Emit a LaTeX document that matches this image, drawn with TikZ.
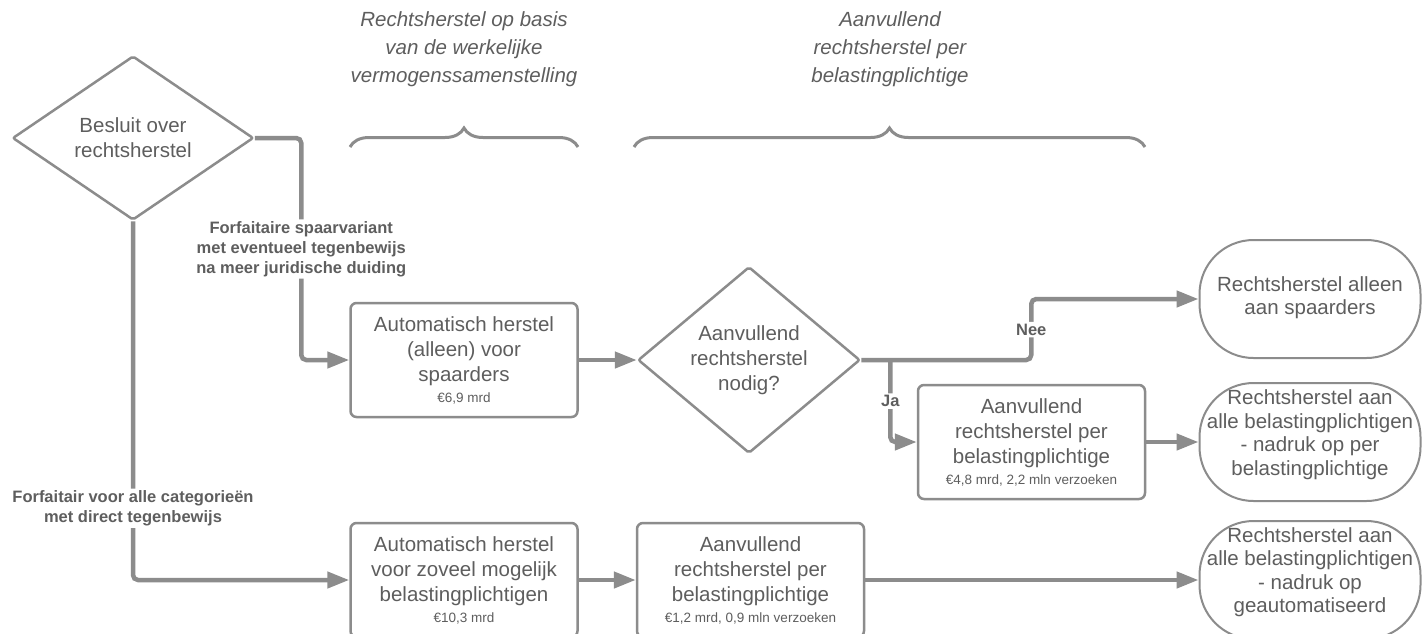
\documentclass[tikz,border=0pt]{standalone}
\usepackage{fontspec}
\setmainfont{Liberation Sans}
\usepackage{tikz}
\usetikzlibrary{arrows.meta, positioning, shapes.geometric, decorations.pathreplacing}
\definecolor{lijngrijs}{HTML}{8C8C8C}
\definecolor{tekstgrijs}{HTML}{5E5E5E}
\newcommand{\bedrag}[1]{{\fontsize{13.5}{16}\selectfont #1}}

\begin{document}
\begin{tikzpicture}[
		x=1pt, y=-1pt,
		beslis/.style={
			diamond,
			draw=lijngrijs,
			line width=2.5pt,
			rounded corners=2pt,
			inner sep=0pt,
			align=center,
			text=tekstgrijs,
			font=\fontsize{20.5}{25}\selectfont
		},
		stap/.style={
			rectangle,
			rounded corners=6pt,
			draw=lijngrijs,
			line width=2.5pt,
			minimum width=227pt,
			minimum height=114pt,
			inner sep=0pt,
			align=center,
			text=tekstgrijs,
			font=\fontsize{20.5}{25}\selectfont
		},
		eind/.style={
			rectangle,
			rounded corners=54pt,
			draw=lijngrijs,
			line width=2pt,
			minimum width=221pt,
			minimum height=118pt,
			inner sep=0pt,
			align=center,
			text=tekstgrijs,
			font=\fontsize{20.5}{23.5}\selectfont
		},
		pijl/.style={
			draw=lijngrijs,
			line width=4.5pt,
			rounded corners=5pt,
			-{Triangle[length=22pt, width=16pt]},
		},
		toelichting/.style={
			fill=white,
			inner sep=2pt,
			align=center,
			text=tekstgrijs,
			font=\fontsize{16.5}{20}\selectfont\bfseries
		},
		kop/.style={
			align=center,
			text=tekstgrijs,
			font=\fontsize{20.5}{28}\selectfont\itshape
		},
		accolade/.style={
			draw=lijngrijs,
			line width=3pt,
			decorate,
			decoration={brace, amplitude=19pt}
		}
	]

	\clip (0,0) rectangle (1422,633);
	\fill[white] (0,0) rectangle (1422,633);

	\node[kop] (kop1) at (464,49) {Rechtsherstel op basis\\van de werkelijke\\vermogenssamenstelling};
	\node[kop] (kop2) at (890,49) {Aanvullend\\rechtsherstel per\\belastingplichtige};
	\draw[accolade] (350,147) -- (578,147);
	\draw[accolade] (634,147) -- (1145,147);

	\node[beslis, minimum width=241pt, minimum height=164pt] (besluit) at (133,138) {Besluit over\\rechtsherstel};
	\node[stap] (spaar) at (464,360) {Automatisch herstel\\(alleen) voor\\spaarders\\[-4pt]\bedrag{€6,9 mrd}};
	\node[beslis, minimum width=222pt, minimum height=156pt, right=58pt of spaar] (nodig) {Aanvullend\\rechtsherstel\\nodig?};
	\node[stap] (perbp) at (1031.5,442) {Aanvullend\\rechtsherstel per\\belastingplichtige\\[-4pt]\bedrag{€4,8 mrd, 2,2 mln verzoeken}};
	\node[stap] (zoveel) at (464,580) {Automatisch herstel\\voor zoveel mogelijk\\belastingplichtigen\\[-4pt]\bedrag{€10,3 mrd}};
	\node[stap, right=57pt of zoveel] (aanv) {Aanvullend\\rechtsherstel per\\belastingplichtige\\[-4pt]\bedrag{€1,2 mrd, 0,9 mln verzoeken}};

	\node[eind] (alleen) at (1310,299) {Rechtsherstel alleen\\aan spaarders\\[-17pt]};
	\node[eind] (nadrukper) at (1310,442) {Rechtsherstel aan\\alle belastingplichtigen\\- nadruk op per\\belastingplichtige\\[-5pt]};
	\node[eind] (nadrukauto) at (1310,580) {Rechtsherstel aan\\alle belastingplichtigen\\- nadruk op\\geautomatiseerd\\[-4pt]};

	\coordinate (jaknik) at ([xshift=29pt]nodig.east);
	\coordinate (neeknik) at ([xshift=170pt]nodig.east);

	\draw[pijl] (besluit.east) -| ([xshift=-48pt]spaar.west) node[toelichting, pos=0.75] (spaarvariant) {Forfaitaire spaarvariant\\met eventueel tegenbewijs\\na meer juridische duiding} -- (spaar.west);
	\draw[pijl] (besluit.south) |- (zoveel.west) node[toelichting, pos=0.4] (forfaitair) {Forfaitair voor alle categorieën\\met direct tegenbewijs};
	\draw[pijl] (spaar) -- (nodig);
	\draw[pijl] (nodig.east) -- (neeknik) |- (alleen.west) node[toelichting, pos=0.25] (nee) {Nee};
	\draw[pijl] (jaknik) |- (perbp.west) node[toelichting, pos=0.25] (ja) {Ja};
	\draw[pijl] (perbp) -- (nadrukper);
	\draw[pijl] (zoveel) -- (aanv);
	\draw[pijl] (aanv) -- (nadrukauto);

\end{tikzpicture}
\end{document}
